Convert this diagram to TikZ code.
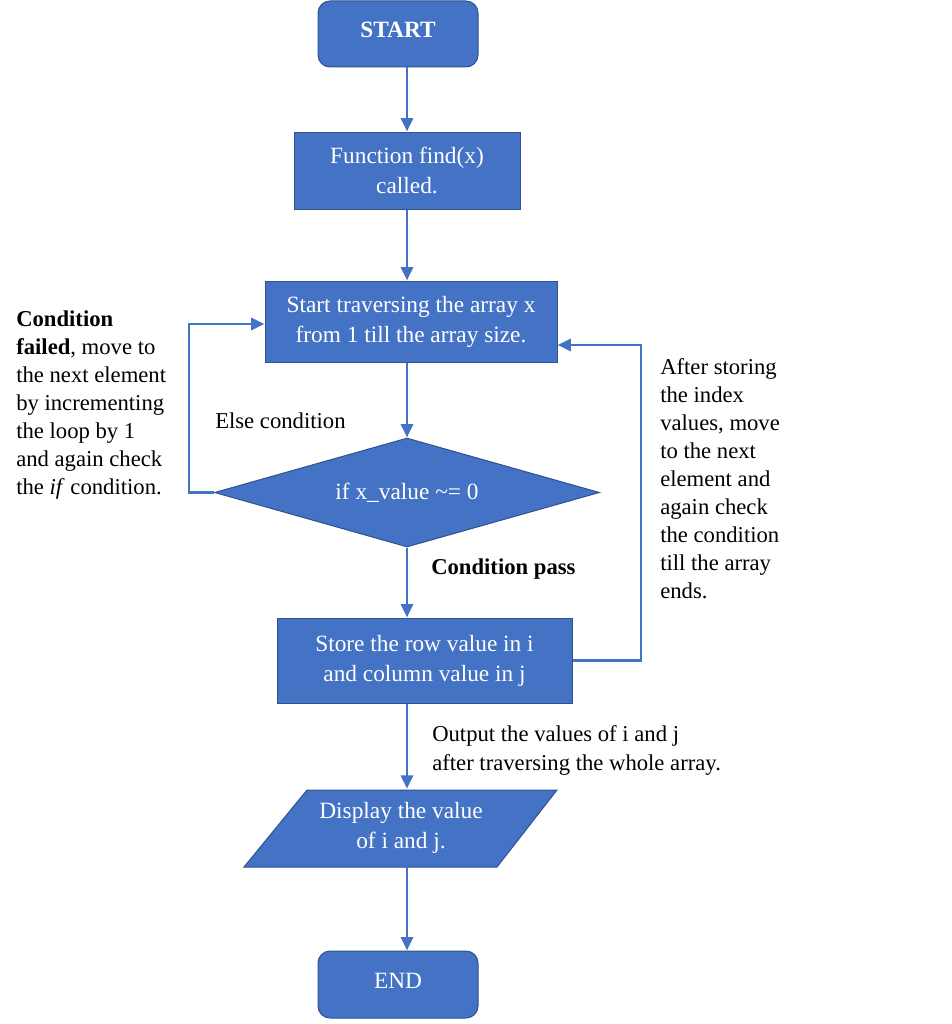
\documentclass[tikz,border=0pt]{standalone}
\usepackage{fontspec}
\setmainfont{Liberation Serif}
\usetikzlibrary{arrows.meta,shapes.geometric}
\definecolor{fillb}{HTML}{4472C4}
\definecolor{edgeb}{HTML}{2F528F}
\begin{document}
\begin{tikzpicture}[x=0.75pt,y=-0.75pt,
  box/.style={draw=edgeb, line width=0.75pt, fill=fillb, text=white,
    font=\fontsize{17.5}{22.5}\selectfont, align=center, inner sep=0pt},
  term/.style={box, rounded corners=9pt},
  arr/.style={draw=fillb, line width=2.1pt, -{Triangle[length=10pt,width=9pt]}},
  note/.style={font=\fontsize{17}{21}\selectfont, align=left, inner sep=0pt, anchor=west}]
\useasboundingbox (0,0) rectangle (952,1024);
% nodes
\node[term, minimum width=120pt, minimum height=49.5pt,
  font=\bfseries\fontsize{17.5}{22.5}\selectfont] (start) at (398,34) {\raisebox{6.5pt}{START}};
\node[box, minimum width=169.5pt, minimum height=57.75pt] (func) at (407,170.5)
  {Function find(x)\\called.};
\node[box, minimum width=219pt, minimum height=60.75pt] (trav) at (411,321.5)
  {Start traversing the array x\\from 1 till the array size.};
\node[box, diamond, shape aspect=3.53, minimum width=288.75pt, minimum height=81.75pt] (dia) at (407,492.5)
  {if x\_value \textasciitilde= 0};
\node[box, minimum width=221.25pt, minimum height=63.75pt] (store) at (424.5,660.5)
  {Store the row value in i\\and column value in j};
\fill[fillb, draw=edgeb, line width=0.75pt] (307,790) -- (557,790) -- (497,867) -- (244,867) -- cycle;
\node[text=white, align=center, inner sep=0pt, minimum height=57.75pt,
  font=\fontsize{17.5}{22.5}\selectfont] (disp) at (401,827.5)
  {Display the value\\of i and j.};
\node[term, minimum width=120pt, minimum height=50.25pt] (end) at (398,984.5) {\raisebox{5.5pt}{END}};
% helper coordinates
\coordinate (ax) at (407,0);
\coordinate (lx) at (189,324);
\coordinate (rx) at (641,345);
% connectors
\draw[arr] (start.south -| ax) -- (func.north -| ax);
\draw[arr] (func.south -| ax) -- (trav.north -| ax);
\draw[arr] (trav.south -| ax) -- (dia.north);
\draw[arr] (dia.south) -- (store.north -| ax);
\draw[arr] (store.south -| ax) -- (disp.north -| ax);
\draw[arr] (disp.south -| ax) -- (end.north -| ax);
\draw[arr] (dia.west) -| (lx) -- (lx -| trav.west);
\draw[arr] (store.east) -| (rx) -- (rx -| trav.east);
% labels
\node[note] (else) at (215,421) {Else condition};
\node[note, font=\bfseries\fontsize{17}{21}\selectfont] (pass) at (431,569) {Condition pass};
\node[note, font=\fontsize{17}{21.75}\selectfont] (out) at (432,750.5)
  {Output the values of i and j\\after traversing the whole array.};
\node[note] (fail) at (16,405)
  {\textbf{Condition}\\\textbf{failed}, move to\\the next element\\by incrementing\\the loop by 1\\and again check\\the \textit{if} condition.};
\node[note] (after) at (660,478.5)
  {After storing\\the index\\values, move\\to the next\\element and\\again check\\the condition\\till the array\\ends.};
\end{tikzpicture}
\end{document}
